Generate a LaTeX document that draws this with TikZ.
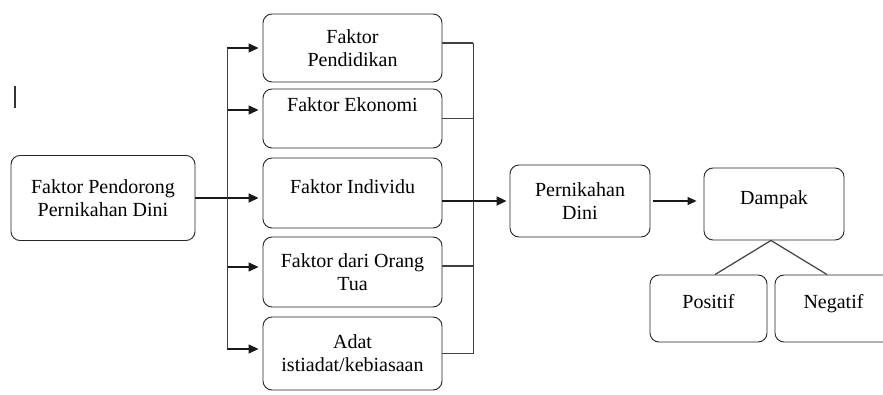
\documentclass[tikz,border=0pt]{standalone}
\usepackage{fontspec}
\setmainfont{Liberation Serif}
\usetikzlibrary{arrows.meta, calc}

\begin{document}
\begin{tikzpicture}[
  x=1pt, y=-1pt,
  box/.style={rectangle, rounded corners=9pt, draw=black!85, line width=0.9pt, align=center, inner sep=0pt, font=\rmfamily\fontsize{20}{23}\selectfont},
  fbox/.style={box, minimum width=179pt},
  sbox/.style={box, minimum width=140pt, minimum height=72pt},
  ibox/.style={box, minimum width=117pt, minimum height=67pt, text height=14pt, text depth=14pt},
  arr/.style={-{Triangle[length=10pt, width=9pt]}, line width=1.2pt, black!90},
  ln/.style={line width=1.2pt, black!75},
]
\clip (0,0) rectangle (883,395);

% Source (left)
\node[box, minimum width=184pt, minimum height=85pt] (src) at (103,198) {Faktor Pendorong\\Pernikahan Dini};

% Factors (middle column)
\node[fbox, minimum height=68pt] (f1) at (352.5,48) {Faktor\\Pendidikan};
\node[fbox, minimum height=59pt, text height=14pt, text depth=27pt] (f2) at (352.5,118.5) {Faktor Ekonomi};
\node[fbox, minimum height=70pt, text height=14pt, text depth=13pt] (f3) at (352.5,193) {Faktor Individu};
\node[fbox, minimum height=70pt] (f4) at (352.5,272) {Faktor dari Orang\\Tua};
\node[fbox, minimum height=73pt] (f5) at (352.5,353.5) {Adat\\istiadat/kebiasaan};

% Result and impact
\node[sbox] (pd) at (580,201) {Pernikahan\\Dini};
\node[sbox, text height=14pt, text depth=13pt] (dmp) at (774,204) {Dampak};
\node[ibox] (pos) at (708.5,308.5) {Positif};
\node[ibox] (neg) at (833.5,308.5) {Negatif};

% stray mark
\draw[line width=1.3pt, black!80] (15,86) -- (15,108);

% Source to factors
\coordinate (trunk) at ($(src.east)+(32,0)$);
\draw[line width=1.8pt, black!90] (src.east) -- (trunk);
\foreach \b/\s in {f1/0, f2/8.5, f4/5, f5/4.5} {
  \coordinate (in-\b) at ([yshift=\s pt]\b.west);
  \draw[arr, shorten >=4pt] (trunk |- in-\b) -- (in-\b);
}
\draw[arr, line width=1.8pt, shorten >=4pt] (trunk) -- (f3.west |- trunk);
\draw[ln] (trunk |- in-f1) -- (trunk |- in-f5);

% Factors to collector
\coordinate (coll) at ($(f3.east)+(31,0)$);
\foreach \b/\s in {f1/5, f2/0, f4/6, f5/0} {
  \coordinate (out-\b) at ([yshift=\s pt]\b.east);
  \draw[ln] (out-\b) -- (coll |- out-\b);
}
\draw[ln] (coll |- out-f1) -- (coll |- out-f5);
\draw[arr, line width=1.8pt, shorten >=3pt] (f3.east |- pd.west) -- (pd.west);

% Result to impact
\draw[arr, -{Triangle[length=9pt, width=8pt]}, shorten <=3pt, shorten >=7pt] (pd.east) -- (pd.east -| dmp.west);
\draw[ln] ([xshift=6.5pt]pos.north) -- ([xshift=-3pt]dmp.south) -- ([xshift=-6.5pt]neg.north);

\end{tikzpicture}
\end{document}
